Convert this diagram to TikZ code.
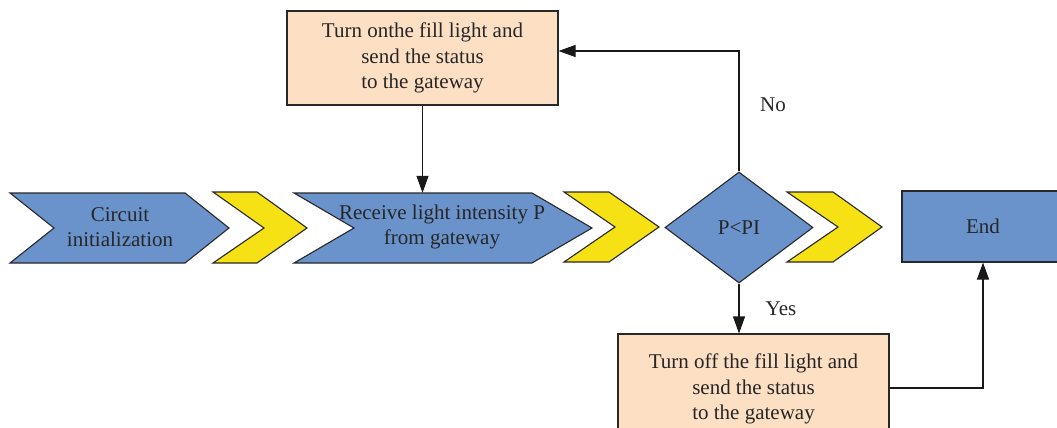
\documentclass[tikz,border=0pt]{standalone}
\usepackage{fontspec}
\setmainfont{Liberation Serif}
\usetikzlibrary{shapes.geometric,arrows.meta}
\definecolor{cblue}{RGB}{106,147,204}
\definecolor{cyel}{RGB}{245,225,20}
\definecolor{cpeach}{RGB}{253,223,196}
\definecolor{cline}{RGB}{40,40,40}
\tikzset{
  chevblue/.style={fill=cblue,draw=cline,line width=1.1pt,line join=miter},
  chevyel/.style={fill=cyel,draw=cline,line width=1.1pt,line join=miter},
  lbl/.style={font=\fontsize{21}{25.5}\selectfont,align=center,text=black!85,inner sep=0pt},
  procbox/.style={fill=cpeach,draw=cline,line width=1.1pt,inner sep=0pt,lbl},
  conn/.style={draw=black!90,line width=1.1pt,-{Triangle[length=17pt,width=12pt]}},
}
\newcommand\chevpath[8]{% style, L, N, R, T, Y1, Ym, Y2
  \path[#1] (#2,#6) -- (#4,#6) -- (#5,#7) -- (#4,#8) -- (#2,#8) -- (#3,#7) -- cycle;}
\begin{document}
\begin{tikzpicture}[x=1pt,y=-1pt]
\useasboundingbox (0,0) rectangle (1057,428);
% chevrons
\chevpath{chevblue}{10}{54}{185}{229}{193}{228}{263}
\chevpath{chevyel}{213}{264}{257}{307}{192}{228}{263}
\chevpath{chevblue}{294}{354}{532}{592}{193}{228}{263}
\chevpath{chevyel}{564}{615}{609}{659}{192}{227}{262}
\chevpath{chevyel}{787}{838}{833}{882}{192}{227}{262}
% chevron labels and anchors
\node[lbl] (init) at (120,227) {Circuit\\initialization};
\node[lbl] (recvtxt) at (442,227) {Receive light intensity P\\from gateway};
\node[inner sep=0pt,minimum width=298pt,minimum height=70pt] (recv) at (443,228) {};
% decision
\node[diamond,fill=cblue,draw=cline,line width=1.1pt,inner sep=0pt,
      minimum width=148pt,minimum height=111pt,lbl] (dec) at (739,227.5) {P<PI};
% end
\node[fill=cblue,draw=cline,line width=1.1pt,minimum width=162pt,minimum height=71pt,
      inner sep=0pt,lbl] (end) at (983,226.5) {End};
% process boxes
\node[procbox,minimum width=271pt,minimum height=94pt] (on) at (422.5,58) {Turn onthe fill light and\\send the status\\to the gateway};
\node[procbox,minimum width=271pt,minimum height=110pt] (off) at (753.5,389) {Turn off the fill light and\\send the status\\to the gateway};
% connectors
\draw[conn] (on.south) -- (on.south |- recv.north);
\coordinate (noc) at (dec.north |- 0,51);
\draw[conn] (dec.north) -- (noc) -- (on.east |- noc);
\node[lbl] (no) at (773,105) {No};
\draw[conn] (dec.south) -- (off.north -| dec.south);
\node[lbl] (yes) at (781,309) {Yes};
\coordinate (offr) at (off.east |- 0,388);
\draw[conn] (offr) -- (end.south |- offr) -- (end.south);
\end{tikzpicture}
\end{document}
